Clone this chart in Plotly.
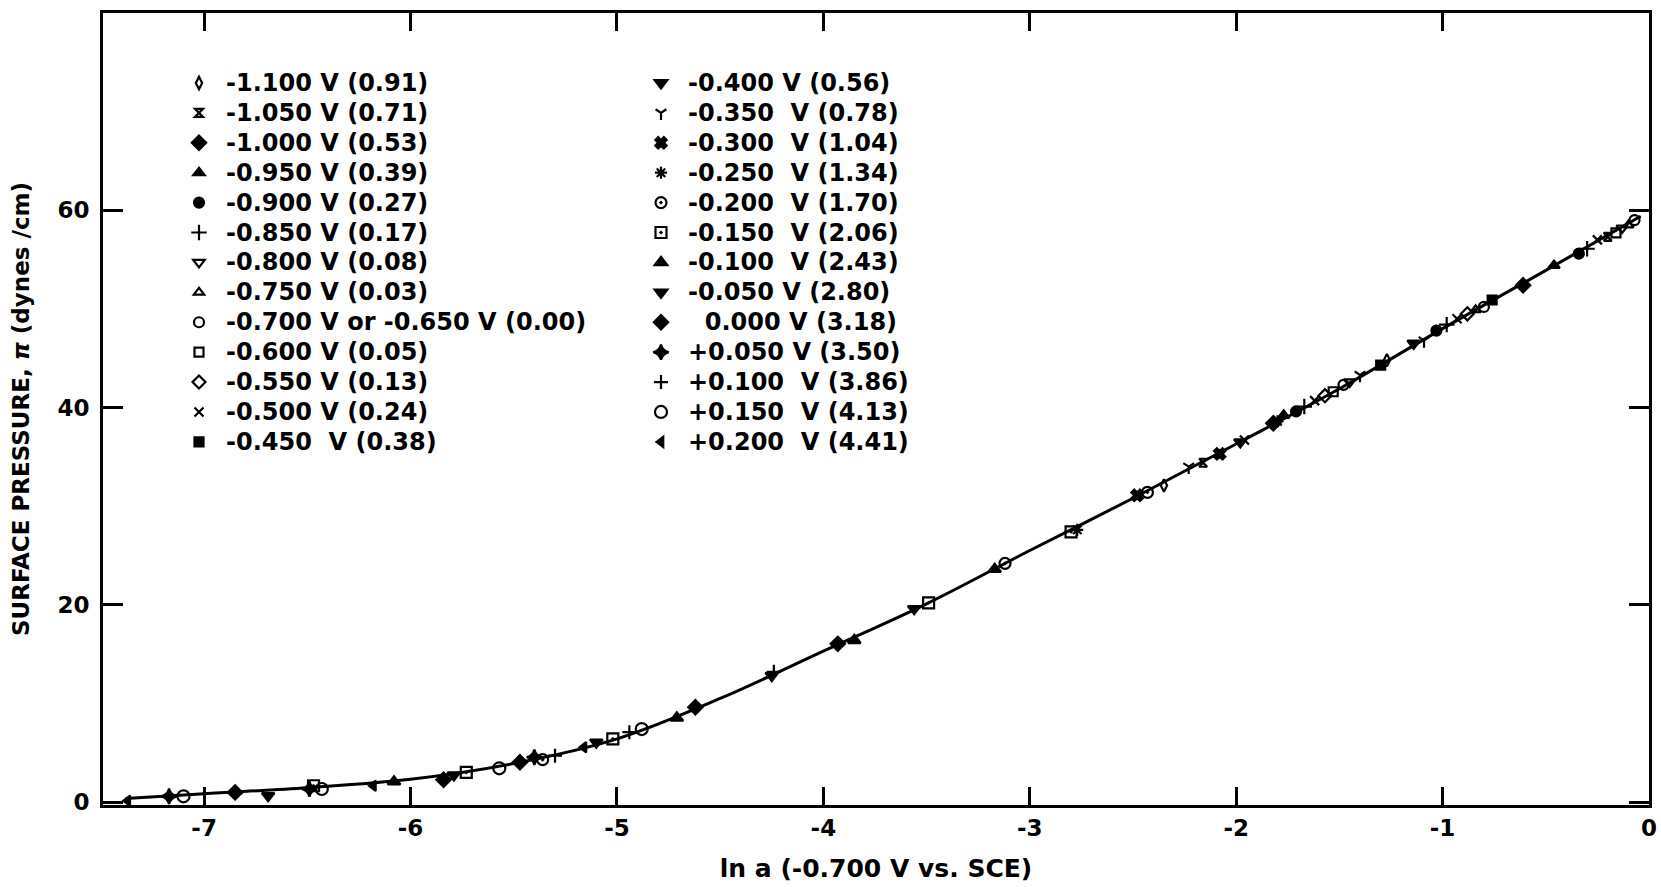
import plotly.graph_objects as go

# ---------------- data ----------------
x_ticks = [-7, -6, -5, -4, -3, -2, -1, 0]
x_ticktext = ["-7", "-6", "-5", "-4", "-3", "-2", "-1", "0"]
y_ticks = [0, 20, 40, 60]
y_ticktext = ["0", "20", "40", "60"]

# smooth curve drawn through the points
curve_x = [-7.38, -7.0, -6.5, -6.0, -5.5, -5.0, -4.5, -4.0, -3.5, -3.0, -2.5, -2.0, -1.5, -1.0, -0.5, -0.04]
curve_y = [0.35, 0.85, 1.45, 2.3, 3.9, 6.4, 10.5, 15.3, 20.1, 25.5, 30.8, 36.3, 41.9, 48.0, 53.9, 59.4]

labels = [
    "-1.100 V (0.91)", "-1.050 V (0.71)", "-1.000 V (0.53)", "-0.950 V (0.39)",
    "-0.900 V (0.27)", "-0.850 V (0.17)", "-0.800 V (0.08)", "-0.750 V (0.03)",
    "-0.700 V or -0.650 V (0.00)", "-0.600 V (0.05)", "-0.550 V (0.13)",
    "-0.500 V (0.24)", "-0.450  V (0.38)",
    "-0.400 V (0.56)", "-0.350  V (0.78)", "-0.300  V (1.04)", "-0.250  V (1.34)",
    "-0.200  V (1.70)", "-0.150  V (2.06)", "-0.100  V (2.43)", "-0.050 V (2.80)",
    "\u00a0\u00a00.000 V (3.18)", "+0.050 V (3.50)", "+0.100  V (3.86)",
    "+0.150  V (4.13)", "+0.200  V (4.41)",
]

xs = [
    [-2.35, -1.27],
    [-2.16, -0.20],
    [-1.82, -0.61],
    [-1.77, -0.46],
    [-1.71, -1.03, -0.34],
    [-1.67, -0.98, -0.30],
    [-1.45, -0.13],
    [-0.84, -0.10],
    [-1.48, -0.80, -0.07],
    [-1.53, -0.16],
    [-1.57, -0.88],
    [-1.96, -1.62, -0.93, -0.25],
    [-1.30, -0.76],
    [-1.98, -1.14],
    [-2.23, -1.40, -1.09],
    [-2.48, -2.08],
    [-2.77, -1.80],
    [-5.36, -3.12, -2.43],
    [-6.47, -5.73, -5.02, -3.49, -2.80],
    [-6.08, -4.71, -3.85, -3.17],
    [-6.69, -5.79, -5.10, -4.25, -3.56],
    [-6.85, -5.84, -5.47, -4.62, -3.93],
    [-7.17, -6.49, -5.40],
    [-5.30, -4.94, -4.24],
    [-7.10, -6.43, -5.57, -4.88],
    [-7.37, -6.18, -5.16],
]
ys = [
    [32.1, 44.8],
    [34.4, 57.3],
    [38.4, 52.4],
    [39.2, 54.4],
    [39.6, 47.8, 55.6],
    [40.1, 48.4, 56.1],
    [42.6, 58.2],
    [49.9, 58.5],
    [42.3, 50.2, 59.0],
    [41.6, 57.7],
    [41.2, 49.5],
    [36.7, 40.7, 49.0, 57.0],
    [44.3, 50.9],
    [36.5, 46.5],
    [34.0, 43.3, 46.8],
    [31.1, 35.3],
    [27.6, 38.6],
    [4.3, 24.2, 31.4],
    [1.65, 3.0, 6.4, 20.2, 27.4],
    [2.06, 8.53, 16.4, 23.6],
    [0.64, 2.74, 6.06, 12.82, 19.6],
    [0.98, 2.26, 4.03, 9.61, 16.04],
    [0.58, 1.32, 4.54],
    [4.7, 7.08, 13.2],
    [0.58, 1.32, 3.42, 7.4],
    [0.13, 1.65, 5.55],
]

# ---------------- styles ----------------
symbols = [
    "diamond-tall-open", "hourglass-open", "diamond", "triangle-up", "circle",
    "cross-thin-open", "triangle-down-open", "triangle-up-open", "circle-open",
    "square-open", "diamond-open", "x-thin-open", "square",
    "triangle-down", "y-down-open", "x", "asterisk-open", "circle-open-dot",
    "square-open-dot", "triangle-up", "triangle-down", "diamond",
    "star-diamond", "cross-thin-open", "circle-open", "triangle-left",
]
sizes = [9, 8, 11, 10, 10, 11, 10, 9, 10, 9, 10, 9, 9,
         11, 9, 10, 10, 11, 11, 11, 11, 11, 11, 10, 12, 9]

FONT = "DejaVu Sans"
fig = go.Figure()

fig.add_trace(go.Scatter(
    x=curve_x, y=curve_y, mode="lines", line=dict(color="black", width=3, shape="spline"),
    showlegend=False, hoverinfo="skip"))

for i, lab in enumerate(labels):
    fig.add_trace(go.Scatter(
        x=xs[i], y=ys[i], mode="markers",
        name="<span style='font-size:24px'>" + lab + "</span>",
        legend="legend" if i < 13 else "legend2",
        marker=dict(symbol=symbols[i], size=sizes[i], color="black",
                    line=dict(color="black", width=2.2)),
    ))

W, H = 1661, 887
ml, mr, mt, mb = 103, 12, 13, 82
pw, ph = W - ml - mr, H - mt - mb

def px_to_paper_x(px):
    return (px - ml) / pw

def px_to_paper_y(py):
    return (H - mb - py) / ph

legend_common = dict(
    bgcolor="rgba(0,0,0,0)", borderwidth=0, xanchor="left", yanchor="top",
    font=dict(family=FONT, size=20.7, color="black", weight="bold"),
    itemwidth=44, tracegroupgap=0,
)

fig.update_layout(
    width=W, height=H,
    margin=dict(l=ml, r=mr, t=mt, b=mb, autoexpand=False),
    paper_bgcolor="white", plot_bgcolor="white",
    font=dict(family=FONT, size=21, color="black", weight="bold"),
    legend=dict(x=px_to_paper_x(172), y=px_to_paper_y(63), **legend_common),
    legend2=dict(x=px_to_paper_x(634), y=px_to_paper_y(63), **legend_common),
    xaxis=dict(
        range=[-7.49, 0], tickvals=x_ticks, ticktext=x_ticktext,
        ticks="inside", ticklen=18, tickwidth=2.5, tickcolor="black",
        showline=True, linewidth=2.8, linecolor="black", mirror="ticks",
        showgrid=False, zeroline=False, automargin=False,
        tickfont=dict(family=FONT, size=23, color="black", weight="bold"),
        title=dict(text="ln a (-0.700 V vs. SCE)", standoff=20,
                   font=dict(family=FONT, size=25, color="black", weight="bold")),
    ),
    yaxis=dict(
        range=[-0.3, 80], tickvals=y_ticks, ticktext=y_ticktext,
        ticks="inside", ticklen=20, tickwidth=2.5, tickcolor="black",
        showline=True, linewidth=2.8, linecolor="black", mirror="ticks",
        showgrid=False, zeroline=False, ticklabelstandoff=6, automargin=False,
        tickfont=dict(family=FONT, size=23, color="black", weight="bold"),
        title=dict(text="SURFACE PRESSURE, <i>π</i> (dynes /cm)", standoff=22,
                   font=dict(family=FONT, size=23, color="black", weight="bold")),
    ),
)

fig.write_html("out.html", config={"displayModeBar": False},
               post_script="document.body.style.margin='0';")
